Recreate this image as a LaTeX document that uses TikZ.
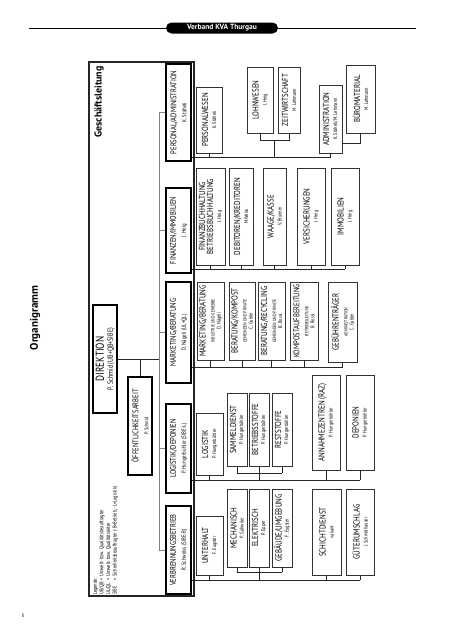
\documentclass[tikz,border=0pt]{standalone}
\usepackage{fontspec}
\setmainfont{PT Sans}[FakeStretch=0.8]
\newfontfamily\hdrfont{PT Sans}
\newcommand\fttl{\fontsize{8.7}{10}\selectfont}
\newcommand\fttlA{\fontsize{8.2}{10}\selectfont}
\newcommand\fnam{\fontsize{5.4}{6}\selectfont}
\newcommand\fnamA{\fontsize{6}{7}\selectfont}
\newcommand\fsub{\fontsize{4.7}{5.5}\selectfont}
\tikzset{
  lone/.style={draw=black, line width=1.5pt, fill=white, rotate=90, inner sep=0pt, align=center, font=\fttlA, minimum height=25pt},
  ltwo/.style={draw=black!80, line width=0.8pt, fill=white, rotate=90, inner sep=0pt, align=center, font=\fttl},
  conn/.style={draw=black!85, line width=0.8pt},
  trunk/.style={draw=black!50, line width=1pt},
}
\begin{document}
\begin{tikzpicture}[x=1pt,y=-1pt]
\useasboundingbox (0,0) rectangle (452,640);
% header
\coordinate (hl) at (29,28);
\coordinate (hr) at (416,28);
\node[fill=black, rounded corners=5.5pt, minimum width=112pt, minimum height=11pt, inner sep=0pt, text=white, font=\hdrfont\bfseries\fontsize{7.5}{8}\selectfont] (hd) at (222,28) {Verband KVA Thurgau};
\draw[line width=0.8pt] (hl) -- (hd.west);
\draw[line width=0.8pt] (hd.east) -- (hr);
\node[rotate=90, font=\hdrfont\bfseries\fontsize{11}{12}\selectfont] (og) at (35,318) {Organigramm};
\node[font=\fontsize{5}{6}\selectfont] (pg) at (23,616) {8};
% frame
\node[draw=black!85, line width=1.2pt, minimum width=534pt, minimum height=105pt, rotate=90, inner sep=0pt] (gl) at (141.5,329) {};
\node[rotate=90, anchor=east, inner sep=0pt, font=\hdrfont\bfseries\fontsize{10}{11}\selectfont] (glt) at (99,66) {Geschäftsleitung};
\node[rotate=90, anchor=north west, inner sep=0pt, font=\fontsize{5.5}{6.6}\selectfont] (lg) at (92,595) {%
\begin{tabular}{@{}l@{\hspace{2pt}}l@{}}
\multicolumn{2}{@{}l@{}}{Legende:}\\
UB/QB & = Umwelt- bzw. Qualitätsbeauftragter\\
UL/QL & = Umwelt- bzw. Qualitätsleiter\\
SIBE & = Sicherheitsbeauftragter (-B=Betrieb, -L=Logistik)
\end{tabular}};
% direktion
\node[lone, minimum width=108pt, minimum height=24pt] (di) at (105,359) {{\fontsize{11.5}{12}\selectfont DIREKTION}\\[-1pt]{\fontsize{7.5}{8}\selectfont P. Schmid (UB+QB+SIBE)}};
\node[lone, minimum width=98pt, minimum height=24pt] (oe) at (140,426) {ÖFFENTLICHKEITSARBEIT\\{\fnam P. Schmid}};
% level 1
\node[lone, minimum width=97pt] (pa) at (178.5,112.5) {PERSONAL/ADMINISTRATION\\{\fnamA K. Stäheli}};
\node[lone, minimum width=85pt] (fi) at (178.5,230.5) {FINANZEN/IMMOBILIEN\\{\fnamA J. Heig}};
\node[lone, minimum width=101pt] (mk) at (178.5,332.5) {MARKETING/BERATUNG\\{\fnamA D. Nägeli (UL+QL)}};
\node[lone, minimum width=89pt] (lo) at (178.5,448.5) {LOGISTIK/DEPONIEN\\{\fnamA P. Hungerbühler (SIBE-L)}};
\node[lone, minimum width=88pt] (vb) at (178.5,550) {VERBRENNUNGSBETRIEB\\{\fnamA R. Schweiss (SIBE-B)}};
% trunk
\coordinate (tr) at (159,0);
\draw[trunk] (pa.north -| tr) -- (vb.north -| tr);
\foreach \n in {pa,fi,mk,lo,vb} {\draw[trunk] (\n.north -| tr) -- (\n.north);}
\draw[conn] (di.south) -- (di.south -| tr);
\draw[conn] (oe.east |- di.south) -- (oe.east);
% personal group
\node[ltwo, minimum width=66pt, minimum height=26pt] (pw) at (209,120) {PERSONALWESEN\\[-2pt]{\fnam K. Stäheli}};
\node[ltwo, minimum width=66pt, minimum height=26pt] (lw) at (260,100) {LOHNWESEN\\[-2pt]{\fnam J. Heig}};
\node[ltwo, minimum width=66pt, minimum height=22pt] (zw) at (289,100) {ZEITWIRTSCHAFT\\[-2pt]{\fnam M. Lehmann}};
\node[ltwo, minimum width=68pt, minimum height=23pt] (ad) at (330.5,119) {ADMINISTRATION\\[-2pt]{\fnam K. Stäheli/M. Lehmann}};
\node[ltwo, minimum width=68pt, minimum height=29pt] (bm) at (360.5,99) {BÜROMATERIAL\\[-2pt]{\fnam M. Lehmann}};
\coordinate (pbus) at (0,157);
\coordinate (psub) at (0,140);
\coordinate (pdrop) at (274.5,140);
\coordinate (bsub) at (0,143);
\draw[conn] (pa.south |- pbus) -- (ad.west |- pbus);
\draw[conn] (pw.west) -- (pw.west |- pbus);
\draw[conn] (ad.west) -- (ad.west |- pbus);
\draw[conn] (lw.west) -- (lw.west |- psub) -- (zw.west |- psub) -- (zw.west);
\draw[conn] (pdrop) -- (pdrop |- pbus);
\draw[conn] (bm.west) -- (bm.west |- bsub) -- (ad.south |- bsub);
% finanz group
\node[ltwo, minimum width=97pt, minimum height=29pt] (fb) at (210.5,216.5) {FINANZBUCHHALTUNG\\[-2pt]BETRIEBSBUCHHALTUNG\\[-2pt]{\fnam J. Heig}};
\node[ltwo, minimum width=97pt, minimum height=24pt] (db) at (241,216.5) {DEBITOREN/KREDITOREN\\[-2pt]{\fnam M.Weiss}};
\node[ltwo, minimum width=97pt, minimum height=23pt] (wk) at (274.5,216.5) {WAAGE/KASSE\\[-2pt]{\fnam V. Brunner}};
\node[ltwo, minimum width=97pt, minimum height=28pt] (vs) at (311,216.5) {VERSICHERUNGEN\\[-2pt]{\fnam J. Heig}};
\node[ltwo, minimum width=97pt, minimum height=28pt] (im) at (345,216.5) {IMMOBILIEN\\[-2pt]{\fnam J. Heig}};
\coordinate (fbus) at (0,269);
\draw[conn] (fi.south |- fbus) -- (im.west |- fbus);
\foreach \n in {fb,db,wk,vs,im} {\draw[conn] (\n.west) -- (\n.west |- fbus);}
% marketing group
\node[ltwo, minimum width=78pt, minimum height=27pt] (mi) at (210.5,321) {MARKETING/BERATUNG\\[-1pt]{\fsub INDUSTRIE UND GEWERBE}\\[-4pt]{\fnam D. Nägeli}};
\node[ltwo, minimum width=78pt, minimum height=26pt] (bk) at (242,321) {BERATUNG/KOMPOST\\[-1pt]{\fsub GEMEINDEN UND PRIVATE}\\[-4pt]{\fnam C. Gubler}};
\node[ltwo, minimum width=78pt, minimum height=27pt] (br) at (271.5,321) {BERATUNG/RECYCLING\\[-1pt]{\fsub GEMEINDEN UND PRIVATE}\\[-4pt]{\fnam B. Rossi}};
\node[ltwo, minimum width=78pt, minimum height=28pt] (ka) at (304,321) {{\fontsize{8.3}{10}\selectfont KOMPOSTAUFBEREITUNG}\\[-1pt]{\fsub BETRIEBSLEITUNG}\\[-4pt]{\fnam B. Rossi}};
\node[ltwo, minimum width=80pt, minimum height=29pt] (gt) at (342.5,322) {GEBÜHRENTRÄGER\\[-1pt]{\fsub ADMINISTRATION}\\[-4pt]{\fnam C. Gubler}};
\coordinate (mbus) at (0,367);
\draw[conn] (mk.south |- mbus) -- (gt.west |- mbus);
\foreach \n in {mi,bk,br,ka,gt} {\draw[conn] (\n.west) -- (\n.west |- mbus);}
% logistik group
\node[ltwo, minimum width=62pt, minimum height=27pt] (lgk) at (209.5,444) {LOGISTIK\\[-2pt]{\fnam P. Hungerbühler}};
\node[ltwo, minimum width=73pt, minimum height=20pt] (sd) at (237,429.5) {SAMMELDIENST\\[-3pt]{\fnam P. Hungerbühler}};
\node[ltwo, minimum width=73pt, minimum height=20pt] (bs) at (259,429.5) {BETRIEBSSTOFFE\\[-3pt]{\fnam P. Hungerbühler}};
\node[ltwo, minimum width=73pt, minimum height=20pt] (rs) at (282,429.5) {RESTSTOFFE\\[-3pt]{\fnam P. Hungerbühler}};
\node[ltwo, minimum width=95pt, minimum height=28pt] (az) at (326,422.5) {ANNAHMEZENTREN (RAZ)\\[-2pt]{\fnam P. Hungerbühler}};
\node[ltwo, minimum width=95pt, minimum height=28pt] (dp) at (360,422.5) {DEPONIEN\\[-2pt]{\fnam P. Hungerbühler}};
\coordinate (lbus) at (0,480);
\coordinate (lsub) at (0,473);
\draw[conn] (lo.south |- lbus) -- (dp.west |- lbus);
\foreach \n in {lgk,az,dp} {\draw[conn] (\n.west) -- (\n.west |- lbus);}
\foreach \n in {sd,bs,rs} {\draw[conn] (\n.west) -- (\n.west |- lsub);}
\draw[conn] (sd.west |- lsub) -- (rs.west |- lsub);
\draw[conn] (bs.west |- lsub) -- (bs.west |- lbus);
% verbrennung group
\node[ltwo, minimum width=59pt, minimum height=27pt] (uh) at (209.5,545.5) {UNTERHALT\\[-2pt]{\fnam F. Eugster}};
\node[ltwo, minimum width=78pt, minimum height=20pt] (me) at (237,528) {MECHANISCH\\[-3pt]{\fnam P. Gähwiler}};
\node[ltwo, minimum width=78pt, minimum height=20pt] (el) at (259,528) {ELEKTRISCH\\[-3pt]{\fnam P. Epper}};
\node[ltwo, minimum width=78pt, minimum height=20pt] (gu) at (282,528) {GEBÄUDE/UMGEBUNG\\[-3pt]{\fnam F. Eugster}};
\node[ltwo, minimum width=86pt, minimum height=29pt] (sc) at (326.5,532) {SCHICHTDIENST\\[-2pt]{\fnam vakant}};
\node[ltwo, minimum width=86pt, minimum height=28pt] (gs) at (360,532) {GÜTERUMSCHLAG\\[-2pt]{\fnam J. Schmidhauser}};
\coordinate (vbus) at (0,580);
\coordinate (vsub) at (0,572);
\draw[conn] (vb.south |- vbus) -- (gs.west |- vbus);
\foreach \n in {uh,sc,gs} {\draw[conn] (\n.west) -- (\n.west |- vbus);}
\foreach \n in {me,el,gu} {\draw[conn] (\n.west) -- (\n.west |- vsub);}
\draw[conn] (me.west |- vsub) -- (gu.west |- vsub);
\draw[conn] (el.west |- vsub) -- (el.west |- vbus);
\end{tikzpicture}
\end{document}
